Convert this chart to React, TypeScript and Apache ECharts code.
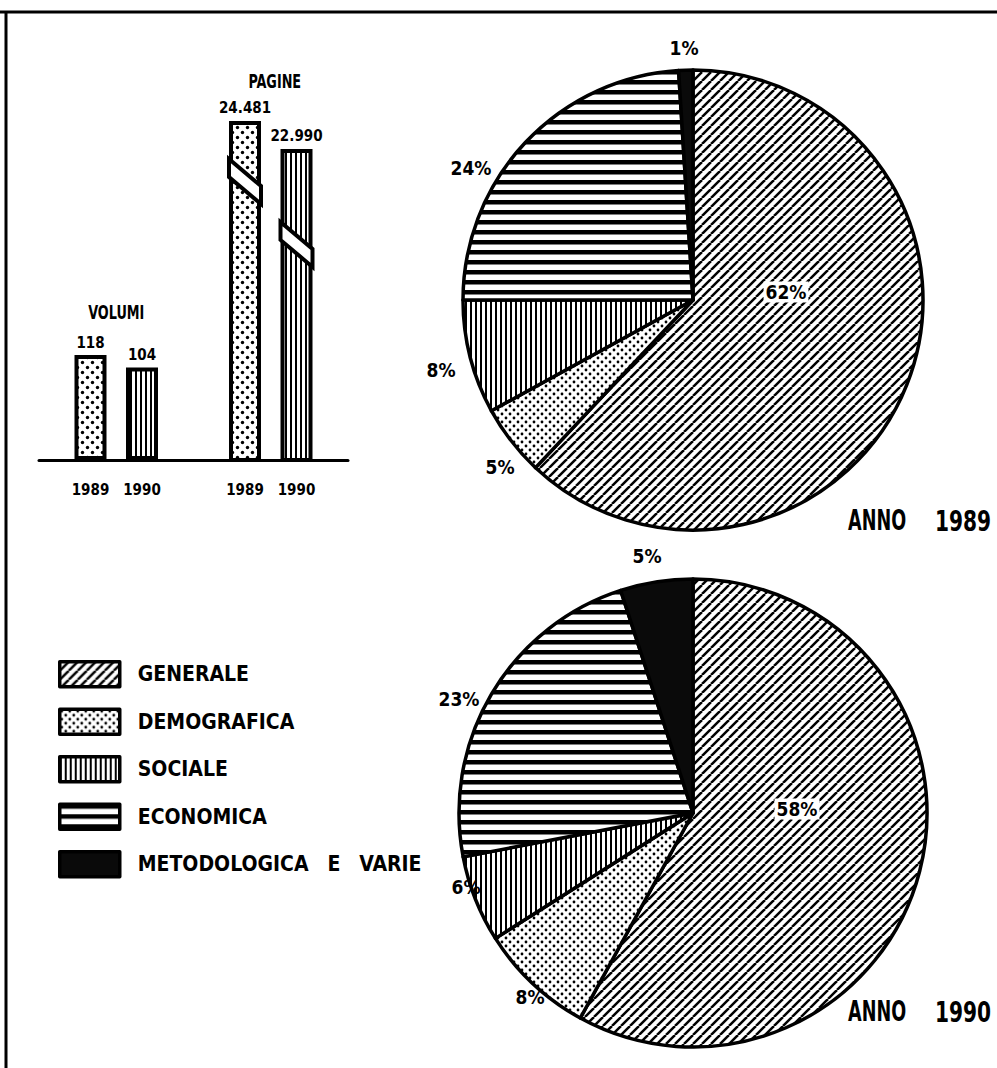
import React, { useEffect, useRef } from 'react';
import * as echarts from 'echarts';

// ---------- data ----------
const YEARS = ['1989', '1990'];
const VOLUMI = [118, 104];
const PAGINE = [24481, 22990];
const SECTORS = ['GENERALE', 'DEMOGRAFICA', 'SOCIALE', 'ECONOMICA', 'METODOLOGICA E VARIE'];
const PCT_1989 = [62, 5, 8, 24, 1];
const PCT_1990 = [58, 8, 6, 23, 5];
const PIE_TITLE = 'ANNO';
const GROUP_TITLES = ['VOLUMI', 'PAGINE'];

// category slots: gap, VOLUMI 1989, VOLUMI 1990, gap, PAGINE 1989, PAGINE 1990, gap
const X_CATS = ['', YEARS[0], YEARS[1], '', YEARS[0], YEARS[1], ''];
const VOL_SLOTS = [1, 2];
const PAG_SLOTS = [4, 5];

// ---------- layout constants ----------
const FONT = '"DejaVu Sans Condensed", "Liberation Sans Narrow", "Arial Narrow", sans-serif';
const PIE_CENTERS = [[693, 300], [693, 813]];
const PIE_RADII = [230, 234];
const LABEL_POS_1989 = [[786, 292], [500, 467], [441, 370], [471, 168], [684, 48]];
const LABEL_POS_1990 = [[797, 809], [530, 997], [466, 887], [459, 699], [647, 556]];
const ANNO_Y = [521, 1012];
const BREAK_OFFSETS = [38, 73];

function tile(w: number, h: number, draw: (ctx: CanvasRenderingContext2D) => void) {
  const c = document.createElement('canvas');
  c.width = w;
  c.height = h;
  const ctx = c.getContext('2d')!;
  ctx.fillStyle = '#fff';
  ctx.fillRect(0, 0, w, h);
  ctx.fillStyle = '#000';
  ctx.strokeStyle = '#000';
  draw(ctx);
  return { image: c.toDataURL(), repeat: 'repeat', imageWidth: w, imageHeight: h } as any;
}

function dot(ctx: CanvasRenderingContext2D, x: number, y: number, r: number) {
  ctx.beginPath();
  ctx.arc(x, y, r, 0, Math.PI * 2);
  ctx.fill();
}

export default function App() {
  const ref = useRef<HTMLDivElement>(null);

  useEffect(() => {
    document.body.style.margin = '0';
    const HATCH = tile(9, 9, (ctx) => {
      ctx.lineWidth = 2.5;
      for (const k of [-9, 0, 9]) {
        ctx.beginPath();
        ctx.moveTo(k, 9);
        ctx.lineTo(k + 9, 0);
        ctx.stroke();
      }
    });
    const DOTS = tile(8, 8, (ctx) => {
      dot(ctx, 2, 2, 1.4);
      dot(ctx, 6, 6, 1.4);
    });
    const BAR_DOTS = tile(10, 10, (ctx) => {
      dot(ctx, 2.5, 2.5, 1.7);
      dot(ctx, 7.5, 7.5, 1.7);
    });
    const VSTRIPES = tile(5, 5, (ctx) => ctx.fillRect(0, 0, 2, 5));
    const HSTRIPES = tile(10, 10, (ctx) => ctx.fillRect(0, 0, 10, 4.5));
    const FILLS = [HATCH, DOTS, VSTRIPES, HSTRIPES, '#0a0a0a'];
    const BAR_FILLS = [BAR_DOTS, VSTRIPES];

    const chart = echarts.init(ref.current!, null, { renderer: 'svg', width: 997, height: 1068 });

    const thousands = (v: number) => String(v).replace(/\B(?=(\d{3})+(?!\d))/g, '.');
    const slotData = (vals: number[], slots: number[]) =>
      X_CATS.map((_, i) => {
        const k = slots.indexOf(i);
        if (k < 0) return null;
        return {
          value: vals[k],
          itemStyle: { color: BAR_FILLS[k], borderColor: '#000', borderWidth: 4 },
        };
      });

    const barLabel = {
      show: true,
      position: 'top',
      distance: 5,
      color: '#000',
      fontFamily: FONT,
      fontWeight: 'bold',
      fontSize: 15,
      formatter: (p: any) => thousands(p.value),
    };

    const pie = (pct: number[], center: number[], radius: number, pos: number[][]) => ({
      type: 'pie',
      center,
      radius,
      startAngle: 90,
      clockwise: true,
      avoidLabelOverlap: false,
      silent: true,
      itemStyle: { borderColor: '#000', borderWidth: 3.5 },
      label: {
        show: true,
        formatter: '{c}%',
        color: '#000',
        fontFamily: FONT,
        fontWeight: 'bold',
        fontSize: 19,
      },
      labelLine: { show: false },
      labelLayout: (p: any) => ({
        x: pos[p.dataIndex][0],
        y: pos[p.dataIndex][1],
        align: 'center',
        verticalAlign: 'middle',
      }),
      data: SECTORS.map((n, i) => ({
        name: n,
        value: pct[i],
        itemStyle: { color: FILLS[i] },
        label: i === 0 ? { backgroundColor: '#fff', padding: [1, 2] } : {},
      })),
    });

    chart.setOption({
      animation: false,
      backgroundColor: '#fff',
      legend: {
        orient: 'vertical',
        left: 53,
        top: 655,
        itemWidth: 60,
        itemHeight: 25,
        itemGap: 19,
        icon: 'rect',
        selectedMode: false,
        data: SECTORS,
        formatter: (name: string) => name.replace(/ /g, '\u2003'),
        itemStyle: { borderColor: '#000', borderWidth: 3.5 },
        textStyle: {
          color: '#000',
          fontFamily: FONT,
          fontWeight: 'bold',
          fontSize: 21,
          padding: [0, 0, 0, 13],
        },
      },
      grid: { left: 39, top: 100, width: 309, height: 360, containLabel: false },
      xAxis: {
        type: 'category',
        data: X_CATS,
        boundaryGap: false,
        axisLine: { lineStyle: { color: '#000', width: 3 } },
        axisTick: { show: false },
        axisLabel: {
          interval: 0,
          margin: 22,
          color: '#000',
          fontFamily: FONT,
          fontWeight: 'bold',
          fontSize: 15,
        },
      },
      yAxis: [
        { type: 'value', min: 0, max: 405, show: false },
        { type: 'value', min: 6400, max: 25600, show: false },
      ],
      series: [
        {
          type: 'bar',
          yAxisIndex: 0,
          barWidth: 32,
          barGap: '-100%',
          silent: true,
          label: barLabel,
          data: slotData(VOLUMI, VOL_SLOTS),
        },
        {
          type: 'bar',
          yAxisIndex: 1,
          barWidth: 32,
          barGap: '-100%',
          silent: true,
          label: barLabel,
          data: slotData(PAGINE, PAG_SLOTS),
        },
        pie(PCT_1989, PIE_CENTERS[0], PIE_RADII[0], LABEL_POS_1989),
        pie(PCT_1990, PIE_CENTERS[1], PIE_RADII[1], LABEL_POS_1990),
      ],
    });

    const px = (si: number, slot: number, v: number) =>
      chart.convertToPixel({ seriesIndex: si }, [slot, v]) as number[];
    const v0 = px(0, VOL_SLOTS[0], VOLUMI[0]);
    const v1 = px(0, VOL_SLOTS[1], VOLUMI[1]);
    const p0 = px(1, PAG_SLOTS[0], PAGINE[0]);
    const p1 = px(1, PAG_SLOTS[1], PAGINE[1]);

    const brk = (pt: number[], off: number) => {
      const x = pt[0];
      const y = pt[1] + off;
      return {
        type: 'polygon',
        z: 100,
        shape: { points: [[x - 16, y], [x + 16, y + 27], [x + 16, y + 45], [x - 16, y + 18]] },
        style: { fill: '#fff', stroke: '#000', lineWidth: 4 },
      };
    };
    const txt = (
      text: string, x: number, y: number, size: number, sx: number, align: string,
    ) => ({
      type: 'text',
      z: 100,
      x,
      y,
      scaleX: sx,
      style: {
        text,
        fill: '#000',
        fontFamily: FONT,
        fontWeight: 'bold',
        fontSize: size,
        align,
        verticalAlign: 'middle',
        textAlign: align,
        textVerticalAlign: 'middle',
      },
    });

    chart.setOption({
      graphic: {
        elements: [
          { type: 'line', z: 100, shape: { x1: 0, y1: 12, x2: 997, y2: 12 }, style: { stroke: '#000', lineWidth: 3 } },
          { type: 'line', z: 100, shape: { x1: 6, y1: 12, x2: 6, y2: 1068 }, style: { stroke: '#000', lineWidth: 3 } },
          brk(p0, BREAK_OFFSETS[0]),
          brk(p1, BREAK_OFFSETS[1]),
          txt(GROUP_TITLES[0], (v0[0] + v1[0]) / 2, v0[1] - 43, 19, 0.75, 'center'),
          txt(GROUP_TITLES[1], (p0[0] + p1[0]) / 2 + 4, p0[1] - 40, 19, 0.75, 'center'),
          txt(PIE_TITLE, 848, ANNO_Y[0], 28, 0.7, 'left'),
          txt(YEARS[0], 935, ANNO_Y[0], 28, 0.8, 'left'),
          txt(PIE_TITLE, 848, ANNO_Y[1], 28, 0.7, 'left'),
          txt(YEARS[1], 935, ANNO_Y[1], 28, 0.8, 'left'),
        ],
      },
    });

    return () => chart.dispose();
  }, []);

  return <div ref={ref} style={{ width: 997, height: 1068, background: '#fff' }} />;
}
